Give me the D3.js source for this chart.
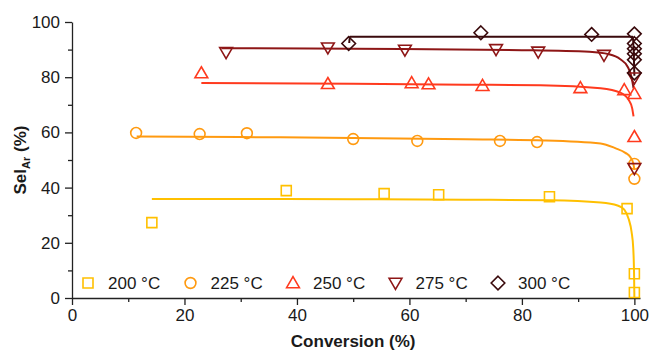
<!DOCTYPE html>
<html>
<head>
<meta charset="utf-8">
<script src="https://cdn.jsdelivr.net/npm/d3@7"></script>
<style>
  body { margin: 0; background: #fff; }
  svg { display: block; font-family: Arial, "Liberation Sans", sans-serif; }
</style>
</head>
<body>
<div id="chart"></div>
<script>
// series labels and colours
const seriesNames = ['200 °C', '225 °C', '250 °C', '275 °C', '300 °C'];
const seriesColors = ['#FFC000', '#FF9A10', '#FF3A1E', '#8E1616', '#3A0A0C'];
const seriesSymbols = ['square', 'circle', 'up', 'down', 'diamond'];

// measured points [conversion, selectivity]
const pts200 = [[14.2, 27.3], [38.1, 38.9], [55.5, 37.8], [65.2, 37.4], [84.9, 36.7], [98.7, 32.4], [100, 8.8], [100, 2.0]];
const pts225 = [[11.4, 59.8], [22.7, 59.4], [31.1, 59.7], [50.0, 57.6], [61.4, 56.9], [76.1, 56.9], [82.7, 56.5], [100, 48.6], [100, 43.2]];
const pts250 = [[23.0, 81.5], [45.5, 77.6], [60.4, 77.9], [63.4, 77.5], [73.0, 76.9], [90.4, 76.1], [98.2, 75.4], [100, 74.0], [100, 58.4]];
const pts275 = [[27.4, 89.0], [45.5, 90.7], [59.2, 89.9], [75.4, 90.1], [82.9, 89.2], [94.6, 88.0], [100, 79.8], [100, 47.0]];
const pts300 = [[49.2, 92.2], [72.7, 96.1], [92.4, 95.5], [100, 95.7], [100, 92.2], [100, 90.3], [100, 88.5], [100, 86.3], [100, 81.5]];

// fitted curves
const fit200 = [[14.2, 35.9], [30, 35.9], [50, 35.8], [70, 35.6], [85, 35.4], [94, 34.6], [97, 33.5], [98.2, 32.0], [99, 28.5], [99.5, 24], [99.8, 18], [99.95, 8], [100, 0]];
const fit225 = [[11.5, 58.5], [30, 58.3], [50, 58.0], [70, 57.5], [84, 57.1], [94, 56.0], [96.6, 54.3], [98.4, 52.6], [99.3, 51.0], [99.8, 48.8], [100, 46.5]];
const fit250 = [[23.0, 77.9], [50, 77.6], [70, 77.3], [83.3, 77.1], [94, 76.0], [97.5, 74.4], [99, 71.7], [99.6, 68.8], [99.85, 65.8]];
const fit275 = [[26.6, 90.5], [50, 90.3], [80, 89.8], [92, 89.2], [95.5, 88.3], [97.5, 86.5], [98.8, 83.8], [99.5, 80.0], [99.85, 76.0]];
const fit300 = [[49.3, 92.4], [49.4, 94.7], [80, 94.7], [99.7, 94.7], [99.9, 88], [100, 80.5]];

const pointSets = [pts200, pts225, pts250, pts275, pts300];
const fitSets = [fit200, fit225, fit250, fit275, fit300];

const xMajor = [0, 20, 40, 60, 80, 100];
const xMinor = [10, 30, 50, 70, 90];
const yMajor = [0, 20, 40, 60, 80, 100];
const yMinor = [10, 30, 50, 70, 90];

const W = 651, H = 353;

const svg = d3.select('#chart').append('svg')
  .attr('width', W)
  .attr('height', H);

const x = d3.scaleLinear().domain([0, 101]).range([72, 640]);
const y = d3.scaleLinear().domain([0, 100]).range([298, 22]);

// symbol path builder, centred at 0,0
function symbolPath(kind) {
  switch (kind) {
    case 'square': return 'M-5,-5H5V5H-5Z';
    case 'circle': return 'M5.4,0A5.4,5.4 0 1,1 -5.4,0A5.4,5.4 0 1,1 5.4,0Z';
    case 'up': return 'M0,-6.3L6.4,4.7H-6.4Z';
    case 'down': return 'M0,6.3L6.4,-4.7H-6.4Z';
    case 'diamond': return 'M0,-6.8L6.8,0L0,6.8L-6.8,0Z';
  }
}

// axes
const axisFont = '17px';
svg.append('g')
  .attr('transform', `translate(0,${y(0)})`)
  .call(d3.axisBottom(x).tickValues(xMajor).tickSize(7).tickPadding(4).tickSizeOuter(0));
svg.append('g')
  .attr('transform', `translate(0,${y(0)})`)
  .call(d3.axisBottom(x).tickValues(xMinor).tickSize(4).tickFormat('').tickSizeOuter(0))
  .select('.domain').remove();

svg.append('g')
  .attr('transform', `translate(${x(0)},0)`)
  .call(d3.axisLeft(y).tickValues(yMajor).tickSize(7).tickPadding(5).tickSizeOuter(0));
svg.append('g')
  .attr('transform', `translate(${x(0)},0)`)
  .call(d3.axisLeft(y).tickValues(yMinor).tickSize(4).tickFormat('').tickSizeOuter(0))
  .select('.domain').remove();

svg.selectAll('.tick line').attr('stroke', '#222').attr('stroke-width', 1.3);
svg.selectAll('.domain').attr('stroke', '#222').attr('stroke-width', 1.3);
svg.selectAll('.tick text')
  .attr('fill', '#1a1a1a')
  .style('font-size', axisFont)
  .style('font-family', 'Arial, "Liberation Sans", sans-serif');

// axis titles
svg.append('text')
  .attr('x', (x(0) + x(100)) / 2)
  .attr('y', 347)
  .attr('text-anchor', 'middle')
  .style('font-size', '17px')
  .style('font-weight', 'bold')
  .attr('fill', '#1a1a1a')
  .text('Conversion (%)');

const yTitle = svg.append('text')
  .attr('transform', `translate(26,${(y(0) + y(100)) / 2}) rotate(-90)`)
  .attr('text-anchor', 'middle')
  .style('font-size', '17px')
  .style('font-weight', 'bold')
  .attr('fill', '#1a1a1a');
yTitle.append('tspan').text('Sel');
yTitle.append('tspan').attr('dy', 4).style('font-size', '11px').text('Ar');
yTitle.append('tspan').attr('dy', -4).text(' (%)');

// fitted lines
const line = d3.line()
  .x(d => x(d[0]))
  .y(d => y(d[1]))
  .curve(d3.curveMonotoneX);

svg.selectAll('.fit')
  .data(fitSets)
  .enter().append('path')
  .attr('class', 'fit')
  .attr('d', d => line(d))
  .attr('fill', 'none')
  .attr('stroke', (d, i) => seriesColors[i])
  .attr('stroke-width', 2);

// data markers
pointSets.forEach((pts, i) => {
  svg.selectAll('.m' + i)
    .data(pts)
    .enter().append('path')
    .attr('class', 'm' + i)
    .attr('transform', d => `translate(${x(d[0])},${y(d[1])})`)
    .attr('d', symbolPath(seriesSymbols[i]))
    .attr('fill', 'none')
    .attr('stroke', seriesColors[i])
    .attr('stroke-width', 1.6);
});

// legend along the bottom of the plot
const legend = svg.append('g').attr('transform', 'translate(88,283)');
const item = legend.selectAll('.leg')
  .data(seriesNames)
  .enter().append('g')
  .attr('class', 'leg')
  .attr('transform', (d, i) => `translate(${i * 102.5},0)`);

item.append('path')
  .attr('d', (d, i) => symbolPath(seriesSymbols[i]))
  .attr('fill', 'none')
  .attr('stroke', (d, i) => seriesColors[i])
  .attr('stroke-width', 1.6);

item.append('text')
  .attr('x', 20)
  .attr('y', 6)
  .style('font-size', '17px')
  .attr('fill', '#1a1a1a')
  .text(d => d);
</script>
</body>
</html>
